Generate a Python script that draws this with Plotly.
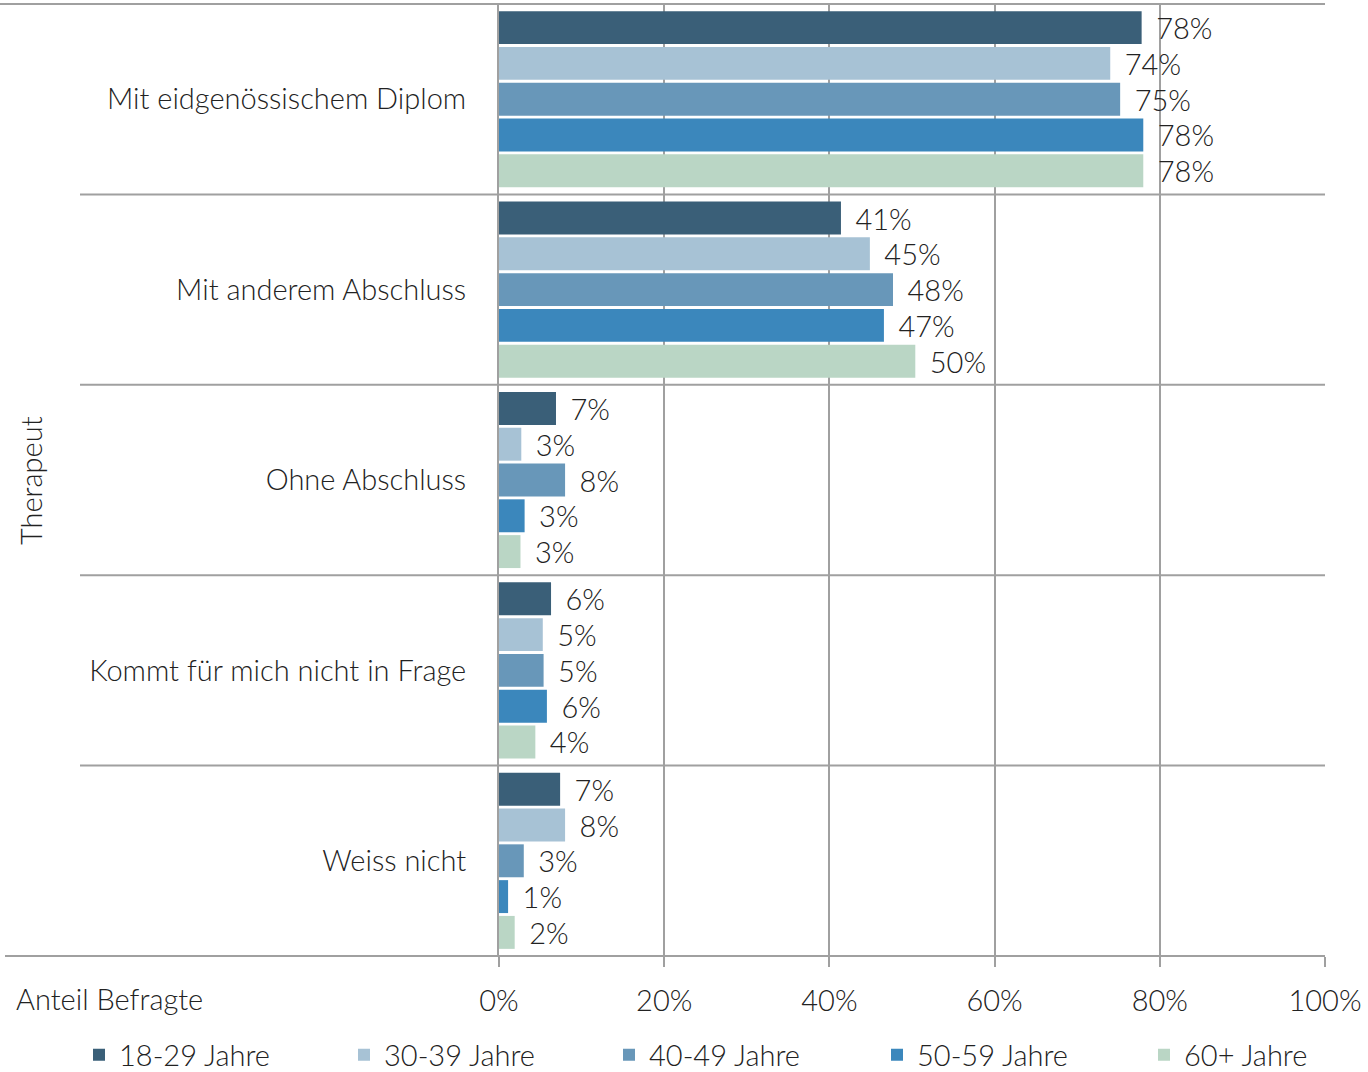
import plotly.graph_objects as go

categories = ["Mit eidgenössischem Diplom", "Mit anderem Abschluss", "Ohne Abschluss",
              "Kommt für mich nicht in Frage", "Weiss nicht"]
series_names = ["18-29 Jahre", "30-39 Jahre", "40-49 Jahre", "50-59 Jahre", "60+ Jahre"]
v_18_29 = [77.8, 41.4, 6.9, 6.3, 7.4]
v_30_39 = [74.0, 44.9, 2.7, 5.3, 8.0]
v_40_49 = [75.2, 47.7, 8.0, 5.4, 3.0]
v_50_59 = [78.0, 46.6, 3.1, 5.8, 1.1]
v_60p = [78.0, 50.4, 2.6, 4.4, 1.9]
series_values = [v_18_29, v_30_39, v_40_49, v_50_59, v_60p]
colors = ["#3A5F78", "#A7C2D5", "#6897B9", "#3B87BC", "#BAD6C5"]
x_ticks = [0, 20, 40, 60, 80, 100]
x_ticklabels = ["0%", "20%", "40%", "60%", "80%", "100%"]
legend_left_px = [79, 344, 609, 877, 1144]

FONT = "Lato"
FS = 29
TXT = "#222222"
GRID = "#A0A0A0"

W, H = 1368, 1072
ml, mr, mt, mb = 499, 43, 4, 116
pw = W - ml - mr
ph = H - mt - mb

fig = go.Figure()
legend_ids = ["legend", "legend2", "legend3", "legend4", "legend5"]
for name, vals, col, lid in zip(series_names, series_values, colors, legend_ids):
    fig.add_trace(go.Bar(
        y=categories, x=vals, name=name, orientation="h",
        marker=dict(color=col, line=dict(width=0)),
        texttemplate="\u00a0\u2009%{x:.0f}%", textposition="outside",
        constraintext="none", cliponaxis=False,
        textfont=dict(family=FONT, size=FS, color=TXT, weight=300),
        hoverinfo="skip", legend=lid,
    ))

shapes = []
n = len(categories)
for i in range(1, n):
    shapes.append(dict(type="line", xref="paper", yref="y", x0=(80 - ml) / pw, x1=1,
                       y0=i - 0.5, y1=i - 0.5, line=dict(color=GRID, width=2)))
shapes.append(dict(type="line", xref="paper", yref="paper", x0=(0 - ml) / pw, x1=1,
                   y0=1, y1=1, line=dict(color=GRID, width=2)))
shapes.append(dict(type="line", xref="paper", yref="paper", x0=(5 - ml) / pw, x1=1,
                   y0=0, y1=0, line=dict(color=GRID, width=2)))

legend_y = -(1055 - (H - mb)) / ph
legends = {}
for lid, lx in zip(legend_ids, legend_left_px):
    legends[lid] = dict(orientation="h", x=(lx - ml) / pw, xanchor="left",
                        y=legend_y, yanchor="middle", bgcolor="rgba(0,0,0,0)",
                        font=dict(family=FONT, size=FS, color=TXT, weight=300),
                        itemclick=False, itemdoubleclick=False)

fig.update_layout(
    width=W, height=H,
    margin=dict(l=ml, r=mr, t=mt, b=mb, autoexpand=False),
    paper_bgcolor="white", plot_bgcolor="white",
    barmode="group", bargap=0.06, bargroupgap=0.08,
    font=dict(family=FONT, size=FS, color=TXT, weight=300),
    showlegend=True,
    shapes=shapes,
    annotations=[
        dict(text="Therapeut", xref="paper", yref="paper", x=(30 - ml) / pw, y=0.5,
             textangle=-90, showarrow=False, xanchor="center", yanchor="middle",
             font=dict(family=FONT, size=FS, color=TXT, weight=300)),
        dict(text="Anteil Befragte", xref="paper", yref="paper", x=(14 - ml) / pw,
             y=-(998 - (H - mb)) / ph, showarrow=False, xanchor="left", yanchor="middle",
             font=dict(family=FONT, size=FS, color=TXT, weight=300)),
    ],
    **legends,
)
fig.update_xaxes(range=[0, 100], tickvals=x_ticks, ticktext=x_ticklabels,
                 showgrid=True, gridcolor=GRID, gridwidth=2,
                 ticks="outside", ticklen=10, tickcolor=GRID, tickwidth=2,
                 ticklabelstandoff=9, zeroline=False,
                 showline=False, fixedrange=True,
                 tickfont=dict(family=FONT, size=FS, color=TXT, weight=300))
fig.update_yaxes(autorange="reversed", showgrid=False, showline=True, linecolor=GRID,
                 linewidth=2, ticks="", ticklabelstandoff=25, fixedrange=True,
                 tickfont=dict(family=FONT, size=FS, color=TXT, weight=300))

fig.write_html("out.html", config={"displayModeBar": False},
               post_script="document.body.style.margin='0px';")
